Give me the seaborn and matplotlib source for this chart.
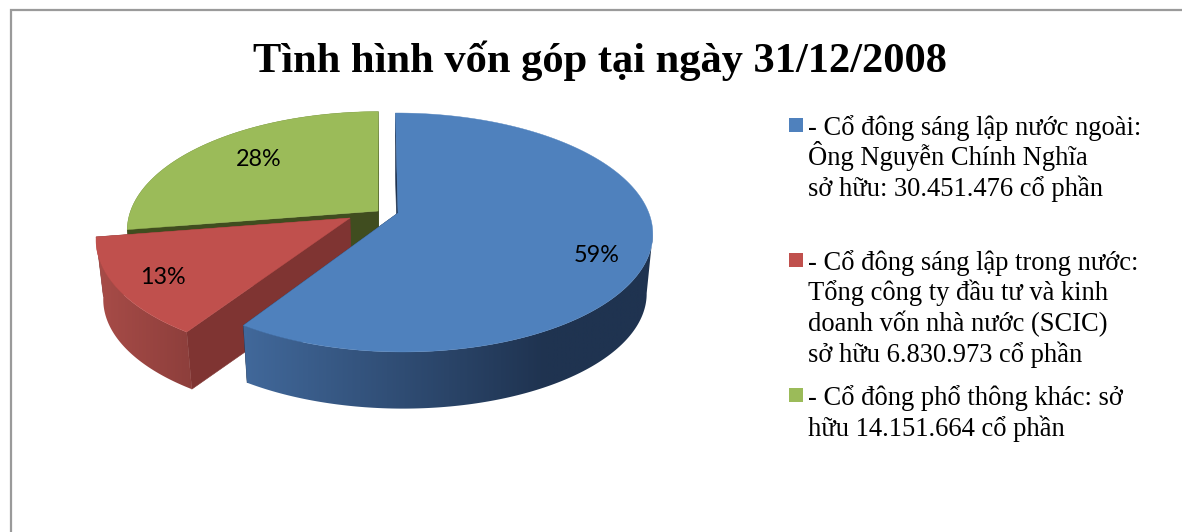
import numpy as np
import matplotlib
matplotlib.use("Agg")
import matplotlib.pyplot as plt
from matplotlib.colors import LinearSegmentedColormap
from matplotlib.patches import Polygon
import seaborn as sns

# ---- data ----
title = "Tình hình vốn góp tại ngày 31/12/2008"
shares = [30451476, 6830973, 14151664]
legend_lines = [
    ["- Cổ đông sáng lập nước ngoài:", "Ông Nguyễn Chính Nghĩa", "sở hữu: 30.451.476 cổ phần"],
    ["- Cổ đông sáng lập trong nước:", "Tổng công ty đầu tư và kinh", "doanh vốn nhà nước (SCIC)", "sở hữu 6.830.973 cổ phần"],
    ["- Cổ đông phổ thông khác: sở", "hữu 14.151.664 cổ phần"],
]

# ---- styles / layout ----
sns.set_theme(style="white")
plt.rcParams["font.family"] = ["Liberation Serif", "DejaVu Serif"]
top_cols = sns.color_palette(["#4f81bd", "#c0504d", "#9bbb59"])
side_left = ["#41689a", "#a84c48", "#404d1f"]
side_right = ["#1f3350", "#8c3e3b", "#404d1f"]
side_span = [(246, 546), (96, 196), (100, 400)]
face_cols = ["#1f3350", "#7f3432", "#404d1f"]
offsets = [(0.0, 0.0), (-0.192, -0.043), (-0.08, 0.017)]   # explode, in disc units
CX, CY, A, B, K, M, SHEAR = 398.0, 213.0, 249.6, 116.3, 0.163, -0.005, 3.0
LOW_S, LOW_Y = 0.976, 273.0
label_xy = [(597, 256), (163, 277), (259, 159)]
marker_top = [118, 253, 388]
legend_y = [[127, 157, 188], [262, 292, 323, 354], [397, 428]]

def project(x, y, low=False):
    w = 1 + K * y + M * x
    X, Y = (A * x - SHEAR * y) / w, -B * y / w
    if low:
        return CX + LOW_S * X, LOW_Y + LOW_S * Y
    return CX + X, CY + Y

fig = plt.figure(figsize=(11.82, 5.32), dpi=100)
ax = fig.add_axes([0, 0, 1, 1])
ax.axis("off")

# frame
ax.plot([10.5, 10.5, 1182], [532, 9.5, 9.5], color="#9a9a9a", lw=1.6, solid_joinstyle="miter")

total = sum(shares)
edges = np.concatenate([[0], np.cumsum(shares)]) / total * 2 * np.pi

def wedge(i):
    t = np.linspace(edges[i], edges[i + 1], 240)
    dx, dy = offsets[i]
    x, y = np.sin(t) + dx, np.cos(t) + dy
    tx, ty = project(x, y)
    lx, ly = project(x, y, low=True)
    ax0, ay0 = project(dx, dy)
    bx0, by0 = project(dx, dy, low=True)
    base = 1 + (2 - i) * 3
    # radial faces
    for j in (0, -1):
        ax.fill([ax0, tx[j], lx[j], bx0], [ay0, ty[j], ly[j], by0],
                color=face_cols[i], lw=0.4, zorder=base)
    # outer side, shaded across its width; starts at the right silhouette if the arc has one
    spans_right = edges[i] < np.pi / 2 < edges[i + 1]
    s_top = int(np.argmax(tx)) if spans_right else 0
    s_low = int(np.argmax(lx)) if spans_right else 0
    cmap = LinearSegmentedColormap.from_list("side", [side_left[i], side_right[i]])
    x0, x1 = side_span[i]
    clip = Polygon(np.c_[np.r_[tx[s_top:], lx[s_low:][::-1]], np.r_[ty[s_top:], ly[s_low:][::-1]]],
                   closed=True, transform=ax.transData, fc="none", ec="none")
    ax.add_patch(clip)
    left, right = min(tx.min(), lx.min()) - 2, max(tx.max(), lx.max()) + 2
    xs = np.linspace(left, right, 512)
    vals = np.clip((xs - x0) / (x1 - x0), 0, 1).reshape(1, -1)
    im = ax.imshow(vals, extent=(left, right, 420, 100), cmap=cmap, vmin=0, vmax=1,
                   aspect="auto", interpolation="bilinear", zorder=base + 1)
    im.set_clip_path(clip)
    # top
    ax.fill(np.r_[ax0, tx], np.r_[ay0, ty], color=top_cols[i], lw=0.3, zorder=base + 2)

for i in range(3):
    wedge(i)

ax.set_xlim(0, 1182)
ax.set_ylim(532, 0)
ax.set_aspect("auto")

# percentage labels
for v, (px, py) in zip(shares, label_xy):
    ax.text(px, py, f"{round(100 * v / total)}%", family=["Lato", "DejaVu Sans"], fontsize=16.8,
            color="black", ha="center", va="center", zorder=20)

# title
ax.text(600, 61, title, fontsize=30.65, fontweight="bold", color="black",
        ha="center", va="center", zorder=20)

# legend
for col, top, lines, ys in zip(top_cols, marker_top, legend_lines, legend_y):
    ax.fill([789, 803, 803, 789], [top, top, top + 14, top + 14], color=col, lw=0)
    for s, y in zip(lines, ys):
        ax.text(808, y + 8, s, fontsize=19.1, color="black", ha="left", va="baseline", zorder=20)

fig.savefig("out.png", dpi=100)
